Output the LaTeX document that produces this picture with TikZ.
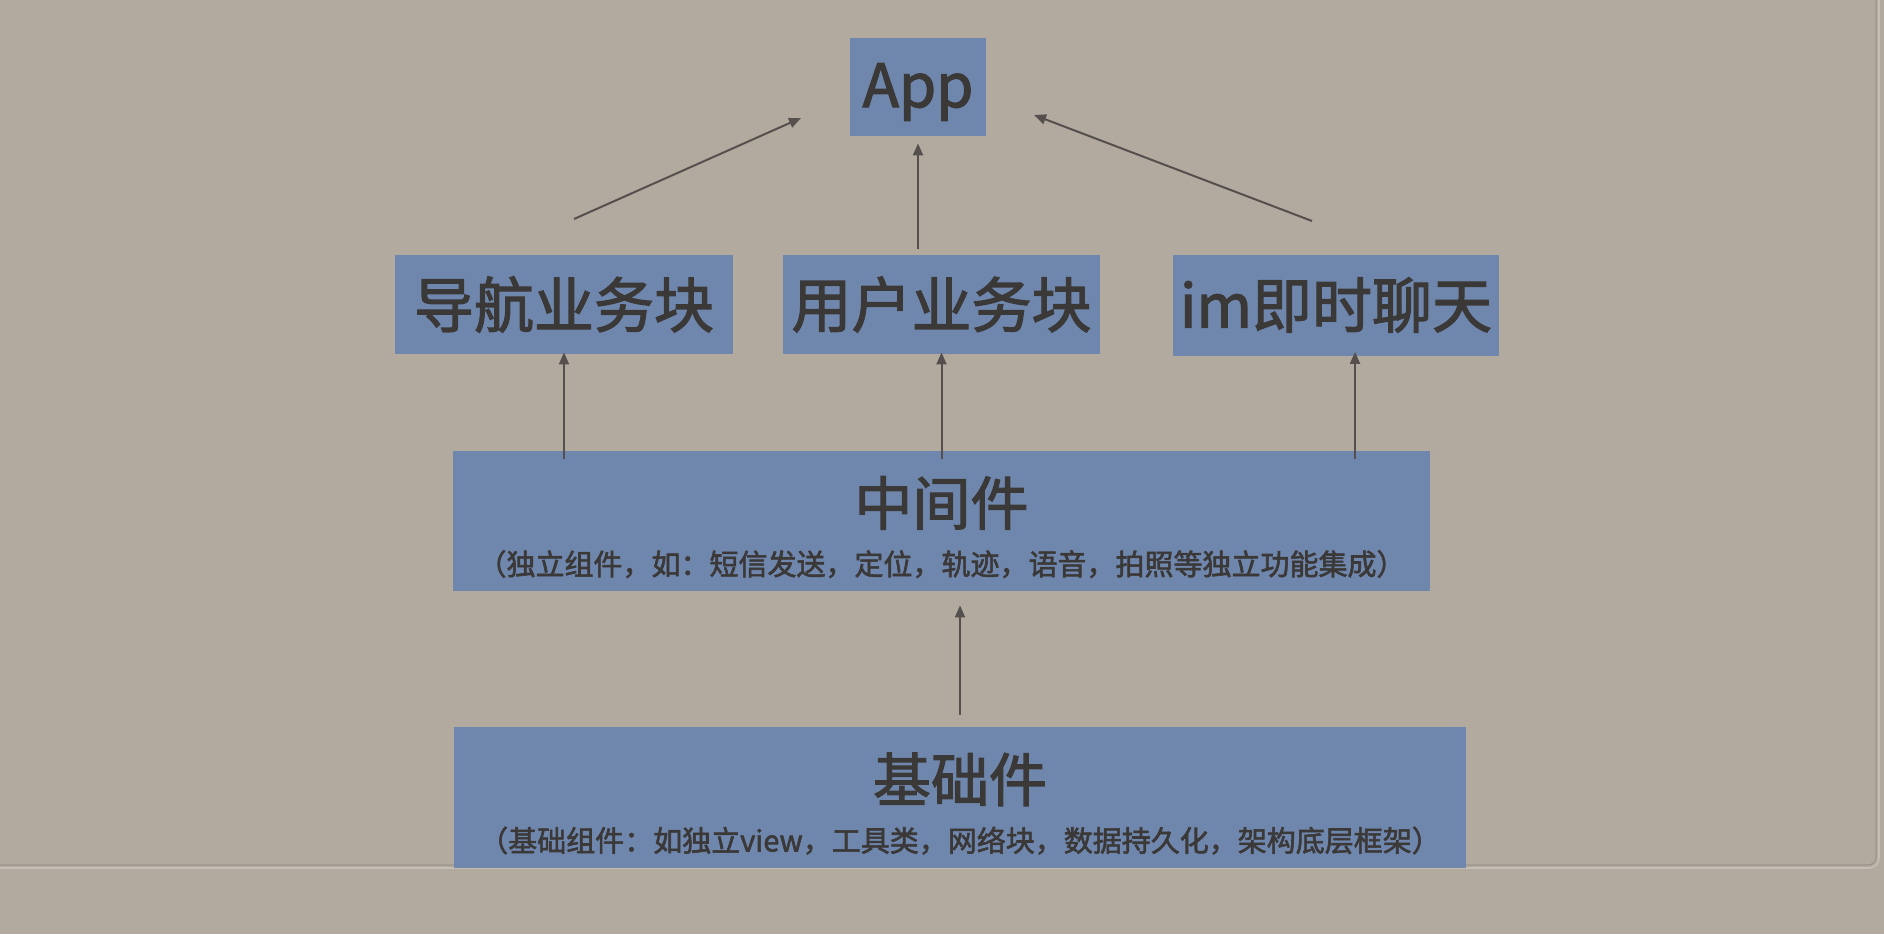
\documentclass[tikz,border=0pt]{standalone}
\usepackage{fontspec}
\setmainfont{Noto Sans CJK SC}[FakeBold=2]
\usetikzlibrary{arrows.meta, calc}

\definecolor{paper}{HTML}{B2AA9E}
\definecolor{boxblue}{HTML}{7087AD}
\definecolor{ink}{HTML}{3B3838}
\definecolor{linegray}{HTML}{55504D}
\definecolor{edgedark}{HTML}{9C958A}
\definecolor{edgelight}{HTML}{C4BEB4}

\tikzset{
  block/.style={fill=boxblue, text=ink, inner sep=0pt, align=center,
    font=\fontsize{30pt}{36pt}\selectfont},
  layer/.style={block, font=\fontsize{14.5pt}{25pt}\selectfont},
  link/.style={draw=linegray, line width=1pt, -{Triangle[length=6pt,width=5pt]}},
}
\newcommand{\layertitle}[1]{{\fontsize{29pt}{34pt}\selectfont\rule{0pt}{30.5pt}#1}}

\begin{document}
\begin{tikzpicture}[x=0.5pt, y=-0.5pt]
  \fill[paper] (0,0) rectangle (1884,934);
  \useasboundingbox (0,0) rectangle (1884,934);
  % edge of the sheet
  \draw[edgedark, line width=0.6pt, rounded corners=4pt] (-5,865) -- (1876,865) -- (1876,-5);
  \draw[edgelight, line width=0.8pt, rounded corners=5pt] (-5,868) -- (1879,868) -- (1879,-5);

  \node[block, minimum width=68pt, minimum height=49pt] (app) at (918,87) {\raisebox{-2.5pt}[\height][\depth]{App}};
  \node[block, minimum width=169pt, minimum height=49.5pt] (nav) at (564,304.5) {导航业务块};
  \node[block, minimum width=158.5pt, minimum height=49.5pt] (user) at (941.5,304.5) {用户业务块};
  \node[block, minimum width=163pt, minimum height=50.5pt] (im) at (1336,305) {im即时聊天};

  \node[layer, minimum width=488.5pt, minimum height=70pt] (mid) at (941.5,521)
    {\layertitle{中间件}\\（独立组件，如：短信发送，定位，轨迹，语音，拍照等独立功能集成）};
  \node[layer, minimum width=506pt, minimum height=70.5pt] (base) at (960,797.5)
    {\layertitle{基础件}\\（基础组件：如独立view，工具类，网络块，数据持久化，架构底层框架）};

  \coordinate (navtail) at (574,219);
  \coordinate (apptipl) at (801,118);
  \coordinate (imtail) at (1312,221);
  \coordinate (apptipr) at (1034,115);

  % into the app
  \draw[link] (navtail) -- (apptipl);
  \draw[link, shorten <=3pt, shorten >=3.5pt] (app.south |- user.north) -- (app.south);
  \draw[link] (imtail) -- (apptipr);

  % middleware up to the modules
  \draw[link, shorten <=-4pt, shorten >=-1pt] (mid.north -| nav.south) -- (nav.south);
  \draw[link, shorten <=-4pt, shorten >=-1pt] (mid.north -| user.south) -- (user.south);
  \draw[link, shorten <=-4pt, shorten >=-2pt] ([xshift=9.5pt]mid.north -| im.south) -- ([xshift=9.5pt]im.south);

  % base up to middleware
  \draw[link, shorten <=6pt, shorten >=7pt] (base.north) -- (base.north |- mid.south);
\end{tikzpicture}
\end{document}
